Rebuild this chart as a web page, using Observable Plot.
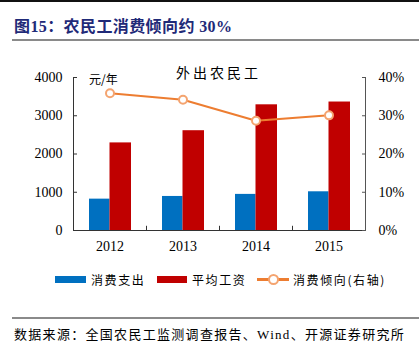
<!DOCTYPE html>
<html><head><meta charset="utf-8">
<script src="https://cdn.jsdelivr.net/npm/d3@7"></script>
<script src="https://cdn.jsdelivr.net/npm/@observablehq/plot@0.6"></script>
<style>
body{margin:0;background:#fff;}
#wrap{position:relative;width:419px;height:346px;overflow:hidden;font-family:"Noto Sans CJK SC",sans-serif;}
.abs{position:absolute;white-space:nowrap;}
</style></head>
<body><div id="wrap"></div>
<script>
const years = ["2012", "2013", "2014", "2015"];
const spending = [820, 890, 944, 1012];      // 消费支出 (元/年 axis)
const wage = [2290, 2609, 3286, 3359];       // 平均工资
const propensity = [35.9, 34.2, 28.7, 30.1]; // 消费倾向 %, right axis
const leftTicks = [0, 1000, 2000, 3000, 4000];
const rightTickLabels = ["0%", "10%", "20%", "30%", "40%"];
const titleText = "图15：农民工消费倾向约 30%";
const subtitleText = "外出农民工";
const unitText = "元/年";
const legendLabels = ["消费支出", "平均工资", "消费倾向(右轴)"];
const sourceText = "数据来源：全国农民工监测调查报告、Wind、开源证券研究所";

const BLUE = "#0070C0", RED = "#C00000", ORANGE = "#ED7D31", RING = "#F4A470";
const AX = "#333";

const wrap = document.getElementById("wrap");
function add(html, css) {
  const d = document.createElement("div");
  d.className = "abs";
  d.style.cssText = css;
  d.textContent = html;
  wrap.appendChild(d);
  return d;
}
// top black line + title + gray rule
add("", "left:0;top:0;width:419px;height:2px;background:#111;");
add(titleText, "left:14px;top:13px;font-size:16px;font-weight:bold;color:#1F2A78;letter-spacing:0.4px;font-family:'Liberation Serif','Noto Sans CJK SC',serif;");
add("", "left:12px;top:39px;width:407px;height:2px;background:#8a8a8a;");

const rows = years.map((y, i) => ({year: y, spend: spending[i], wage: wage[i], prop: propensity[i] * 100}));

const chart = Plot.plot({
  width: 419, height: 210,
  marginTop: 27, marginBottom: 30, marginLeft: 73, marginRight: 54,
  style: {fontFamily: "'Liberation Serif', serif", fontSize: "14px", color: "#000", background: "transparent"},
  x: {type: "band", domain: years, padding: 0, label: null},
  y: {domain: [0, 4000], label: null},
  marks: [
    Plot.barY(rows, {x: "year", y: "spend", fill: BLUE, insetLeft: 16, insetRight: 36.5}),
    Plot.barY(rows, {x: "year", y: "wage", fill: RED, insetLeft: 36.5, insetRight: 15}),
    Plot.frame({anchor: "left", stroke: AX}),
    Plot.frame({anchor: "right", stroke: "#555"}),
    Plot.frame({anchor: "bottom", stroke: AX}),
    Plot.ruleX(years.slice(0, 3), {x: d => d, dx: 36.5, y1: 0, y2: 110, stroke: AX}),
    Plot.axisY({anchor: "left", ticks: leftTicks, tickSize: -4, tickPadding: 15, tickFormat: d => String(d), stroke: AX, label: null}),
    Plot.axisY({anchor: "right", ticks: leftTicks, tickSize: -4, tickPadding: 17, tickFormat: d => rightTickLabels[leftTicks.indexOf(d)], stroke: "#555", label: null}),
    Plot.axisX({anchor: "bottom", tickSize: 0, tickPadding: 11, label: null}),
    Plot.line(rows, {x: "year", y: "prop", stroke: ORANGE, strokeWidth: 2}),
    Plot.dot(rows, {x: "year", y: "prop", r: 4, fill: "#fff", stroke: RING, strokeWidth: 2})
  ]
});
chart.style.position = "absolute";
chart.style.left = "0px";
chart.style.top = "50px";
wrap.appendChild(chart);

add(subtitleText, "left:176px;top:62px;font-size:14px;letter-spacing:3px;color:#000;");
add(unitText, "left:89px;top:70px;font-size:12px;color:#000;");

// legend
add("", `left:55px;top:276px;width:31px;height:7px;background:${BLUE};`);
add(legendLabels[0], "left:91px;top:271px;font-size:12px;letter-spacing:1.6px;color:#000;");
add("", `left:157px;top:276px;width:30px;height:7px;background:${RED};`);
add(legendLabels[1], "left:192px;top:271px;font-size:12px;letter-spacing:1.6px;color:#000;");
add("", `left:257px;top:278px;width:32px;height:2.5px;background:${ORANGE};`);
add("", `left:268px;top:274px;width:7px;height:7px;border-radius:50%;background:#fff;border:2px solid ${RING};`);
add(legendLabels[2], "left:293px;top:271px;font-size:12px;letter-spacing:1.6px;color:#000;");

// bottom rule + source
add("", "left:12px;top:317px;width:407px;height:1.5px;background:#8a8a8a;");
add(sourceText, "left:14px;top:324px;font-size:13px;letter-spacing:1.3px;color:#000;font-family:'Liberation Serif','Noto Sans CJK SC',serif;");
</script>
</body></html>
